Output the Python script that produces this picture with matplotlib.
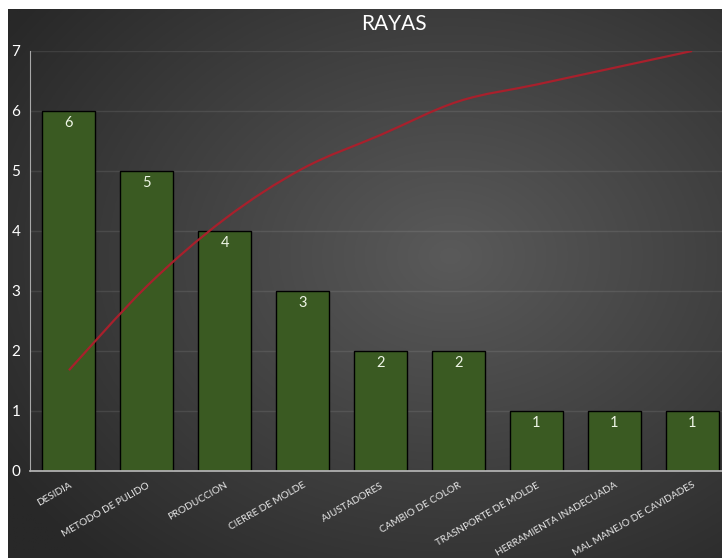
import numpy as np
import matplotlib
matplotlib.use("Agg")
import matplotlib.pyplot as plt
from matplotlib.path import Path
from matplotlib.patches import PathPatch

# ---------------------- data ----------------------
categories = ["DESIDIA", "METODO DE PULIDO", "PRODUCCION", "CIERRE DE MOLDE",
              "AJUSTADORES", "CAMBIO DE COLOR", "TRASNPORTE DE MOLDE",
              "HERRAMIENTA INADECUADA", "MAL MANEJO DE CAVIDADES"]
counts = [6, 5, 4, 3, 2, 2, 1, 1, 1]
y_ticks = [0, 1, 2, 3, 4, 5, 6, 7]
title = "RAYAS"

cum_pct = np.cumsum(counts) / sum(counts)

plt.rcParams['font.family'] = ['Lato', 'DejaVu Sans']

fig = plt.figure(figsize=(7.22, 5.58), dpi=100, facecolor="white")

# dark radial-gradient background (white strip top/left like the screenshot)
bg = fig.add_axes([8 / 722, 0, 1 - 8 / 722, 1 - 9 / 558])
bg.set_axis_off()
gx, gy = np.meshgrid(np.linspace(0, 1, 300), np.linspace(0, 1, 300))
r = np.sqrt(((gx - 0.62) / 0.75) ** 2 + ((gy - 0.55) / 0.75) ** 2)
r = np.clip(r, 0, 1)
inner = np.array([0x5a, 0x5a, 0x5a]) / 255
outer = np.array([0x28, 0x28, 0x28]) / 255
img = inner[None, None, :] * (1 - r[..., None]) + outer[None, None, :] * r[..., None]
bg.imshow(img, origin="lower", extent=[0, 1, 0, 1], aspect="auto")
bg.set_xlim(0, 1)
bg.set_ylim(0, 1)

ax = fig.add_axes([30 / 722, 1 - 471 / 558, 701 / 722, 420 / 558])
ax.patch.set_alpha(0)

x = np.arange(len(categories))
bars = ax.bar(x, counts, width=0.68, color="#3a5a22", edgecolor="black",
              linewidth=1.0, zorder=2)
for xi, v in zip(x, counts):
    ax.annotate(str(v), (xi, v), xytext=(0, -8.5), textcoords="offset points",
                ha="center", va="center", color="#eef5e6", fontsize=10.5, zorder=3)

ax.set_xlim(-0.5, 8.5)
ax.set_ylim(0, 7)
ax.set_yticks(y_ticks)
ax.set_yticklabels([str(t) for t in y_ticks], color="white", fontsize=11)
ax.tick_params(axis="y", length=0, pad=7)
ax.set_xticks(x)
ax.set_xticklabels(categories, rotation=30, ha="right", va="top",
                   rotation_mode="anchor", color="#e8e8e8", fontsize=7.2)
ax.tick_params(axis="x", length=0, pad=7)
ax.grid(axis="y", color="white", alpha=0.09, linewidth=1.0, zorder=0)
ax.set_axisbelow(True)
for s in ["top", "right"]:
    ax.spines[s].set_visible(False)
ax.spines["left"].set_color("#a8a8a8")
ax.spines["bottom"].set_color("#b0b0b0")
ax.spines["bottom"].set_linewidth(1.3)

# cumulative percentage on a hidden secondary axis, smoothed like Excel
ax2 = ax.twinx()
ax2.set_ylim(0, 1)
ax2.set_axis_off()
px, py = x.astype(float), cum_pct
verts = [(px[0], py[0])]
codes = [Path.MOVETO]
n = len(px)
for i in range(n - 1):
    p0 = (px[max(i - 1, 0)], py[max(i - 1, 0)])
    p1 = (px[i], py[i])
    p2 = (px[i + 1], py[i + 1])
    p3 = (px[min(i + 2, n - 1)], py[min(i + 2, n - 1)])
    c1 = (p1[0] + (p2[0] - p0[0]) / 6, p1[1] + (p2[1] - p0[1]) / 6)
    c2 = (p2[0] - (p3[0] - p1[0]) / 6, p2[1] - (p3[1] - p1[1]) / 6)
    verts += [c1, c2, p2]
    codes += [Path.CURVE4] * 3
ax2.add_patch(PathPatch(Path(verts, codes), facecolor="none",
                        edgecolor="#a8202c", linewidth=1.6, zorder=4))

fig.text(394 / 722, 1 - 24 / 558, title, ha="center", va="center",
         color="white", fontsize=15)

fig.savefig("out.png", dpi=100, facecolor="white")
